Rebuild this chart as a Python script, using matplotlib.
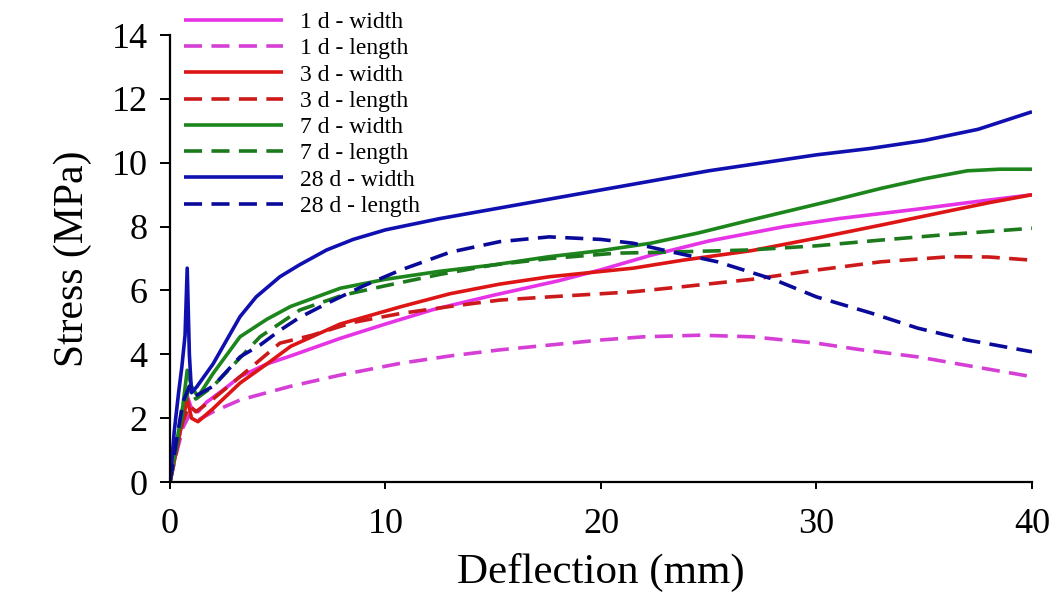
import matplotlib
matplotlib.use("Agg")
import matplotlib.pyplot as plt

plt.rcParams['font.family'] = ['Liberation Serif', 'DejaVu Serif']

# 1 d
x_1d_w = [0, 0.3, 0.6, 0.8, 1.0, 1.3, 1.7, 2.5, 3.25, 4.5, 5.6, 7.9, 10, 12.2, 15, 18, 20, 22.3, 25, 28.5, 31, 34.7, 37, 40]
y_1d_w = [0, 1.0, 2.0, 2.7, 2.3, 2.2, 2.5, 2.9, 3.3, 3.7, 3.95, 4.5, 4.95, 5.4, 5.85, 6.3, 6.65, 7.1, 7.55, 8.0, 8.25, 8.55, 8.75, 9.0]
x_1d_l = [0, 0.3, 0.6, 0.9, 1.2, 2, 3.25, 4.5, 5.6, 7.9, 10.7, 13, 15.3, 17.6, 20, 22, 24.6, 27, 30, 32, 34.7, 37, 40]
y_1d_l = [0, 0.9, 1.7, 2.1, 1.9, 2.2, 2.57, 2.8, 3.0, 3.35, 3.72, 3.95, 4.14, 4.29, 4.45, 4.55, 4.6, 4.55, 4.35, 4.15, 3.92, 3.65, 3.3]

# 3 d
x_3d_w = [0, 0.3, 0.6, 0.8, 1.0, 1.3, 2, 3.25, 4.5, 5.6, 7.9, 10.7, 13, 15.3, 17.6, 21.5, 23.8, 27, 30, 33, 36.2, 38, 40]
y_3d_w = [0, 1.0, 2.0, 2.6, 2.0, 1.89, 2.3, 3.1, 3.7, 4.25, 4.95, 5.49, 5.9, 6.2, 6.43, 6.7, 6.95, 7.25, 7.64, 8.05, 8.5, 8.75, 9.0]
x_3d_l = [0, 0.3, 0.6, 0.9, 1.2, 2, 3.25, 5.1, 6.6, 8.5, 10.7, 13, 15.3, 17.6, 21.5, 23.8, 27, 30, 33, 36.2, 38, 40]
y_3d_l = [0, 1.0, 1.9, 2.4, 2.2, 2.6, 3.3, 4.35, 4.6, 5.0, 5.28, 5.5, 5.7, 5.8, 5.96, 6.12, 6.35, 6.64, 6.9, 7.06, 7.05, 6.95]

# 7 d
x_7d_w = [0, 0.3, 0.6, 0.8, 1.0, 1.3, 2, 3.25, 4.5, 5.6, 7.9, 10, 12.5, 15, 17.6, 20, 22.3, 24.5, 26.9, 30.8, 33, 35, 37, 38.5, 40]
y_7d_w = [0, 1.2, 2.4, 3.5, 3.0, 2.67, 3.4, 4.55, 5.1, 5.5, 6.07, 6.35, 6.6, 6.8, 7.06, 7.25, 7.48, 7.8, 8.2, 8.83, 9.2, 9.5, 9.75, 9.8, 9.8]
x_7d_l = [0, 0.3, 0.6, 0.9, 1.2, 2, 4.18, 6.03, 8, 10, 12.5, 15, 17.6, 20.7, 23, 26.9, 30, 33, 36, 38, 40]
y_7d_l = [0, 1.1, 2.2, 3.0, 2.6, 3.0, 4.55, 5.39, 5.85, 6.15, 6.5, 6.8, 7.0, 7.17, 7.2, 7.27, 7.4, 7.58, 7.75, 7.85, 7.95]

# 28 d
x_28d_w = [0, 0.2, 0.4, 0.55, 0.7, 0.8, 0.9, 1.0, 1.24, 2, 3.25, 4, 5.1, 6, 7.27, 8.5, 10, 12.5, 15, 17.5, 20, 22.5, 25, 27.5, 30, 32.5, 35, 37.5, 40]
y_28d_w = [0, 1.6, 2.8, 3.6, 4.6, 6.7, 4.0, 2.8, 2.98, 3.7, 5.18, 5.8, 6.43, 6.8, 7.27, 7.6, 7.9, 8.25, 8.55, 8.85, 9.15, 9.45, 9.75, 10.0, 10.25, 10.45, 10.7, 11.05, 11.6]
x_28d_l = [0, 0.3, 0.6, 0.9, 1.2, 2, 3.25, 4.2, 5.1, 6, 7.3, 9, 10.7, 13, 15.3, 17.6, 20, 21.5, 23, 25.4, 28, 30, 32.5, 34.7, 37, 40]
y_28d_l = [0, 1.3, 2.5, 3.0, 2.7, 3.0, 3.92, 4.3, 4.75, 5.15, 5.6, 6.15, 6.64, 7.2, 7.53, 7.68, 7.6, 7.48, 7.25, 6.9, 6.35, 5.8, 5.3, 4.82, 4.45, 4.08]

series = [
    (x_1d_w, y_1d_w, '1 d - width', '#E633E6', '-'),
    (x_1d_l, y_1d_l, '1 d - length', '#D63FD6', '--'),
    (x_3d_w, y_3d_w, '3 d - width', '#DD1515', '-'),
    (x_3d_l, y_3d_l, '3 d - length', '#CC1A1A', '--'),
    (x_7d_w, y_7d_w, '7 d - width', '#1C851C', '-'),
    (x_7d_l, y_7d_l, '7 d - length', '#1C7A1C', '--'),
    (x_28d_w, y_28d_w, '28 d - width', '#1010B0', '-'),
    (x_28d_l, y_28d_l, '28 d - length', '#0A0A9A', '--'),
]

fig = plt.figure(figsize=(10.59, 6.06), dpi=100)
ax = fig.add_axes([0.1605, 0.2046, 0.814, 0.7374])

for x, y, label, color, ls in series:
    line, = ax.plot(x, y, color=color, lw=2.6, label=label, solid_capstyle='butt')
    if ls == '--':
        line.set_dashes((5.0, 2.6))

ax.set_xlim(0, 40)
ax.set_ylim(0, 14)
ax.set_xticks([0, 10, 20, 30, 40])
ax.set_yticks(range(0, 15, 2))

for side in ['top', 'right']:
    ax.spines[side].set_visible(False)
for side in ['left', 'bottom']:
    ax.spines[side].set_linewidth(1.6)

ax.tick_params(axis='y', direction='out', length=7, width=1.4, labelsize=26, pad=9)
ax.tick_params(axis='x', direction='out', length=5, width=1.4, labelsize=26, pad=14)

ax.set_xlabel('Deflection (mm)', fontsize=31, labelpad=8)
ax.set_ylabel('Stress (MPa)', fontsize=30, labelpad=14)

leg = ax.legend(loc='upper left', bbox_to_anchor=(0.158, 1.008), bbox_transform=fig.transFigure,
                frameon=False, fontsize=17, handlelength=4.2, handletextpad=0.7,
                labelspacing=0.2, borderpad=0.2)

plt.savefig('out.png', dpi=100)
